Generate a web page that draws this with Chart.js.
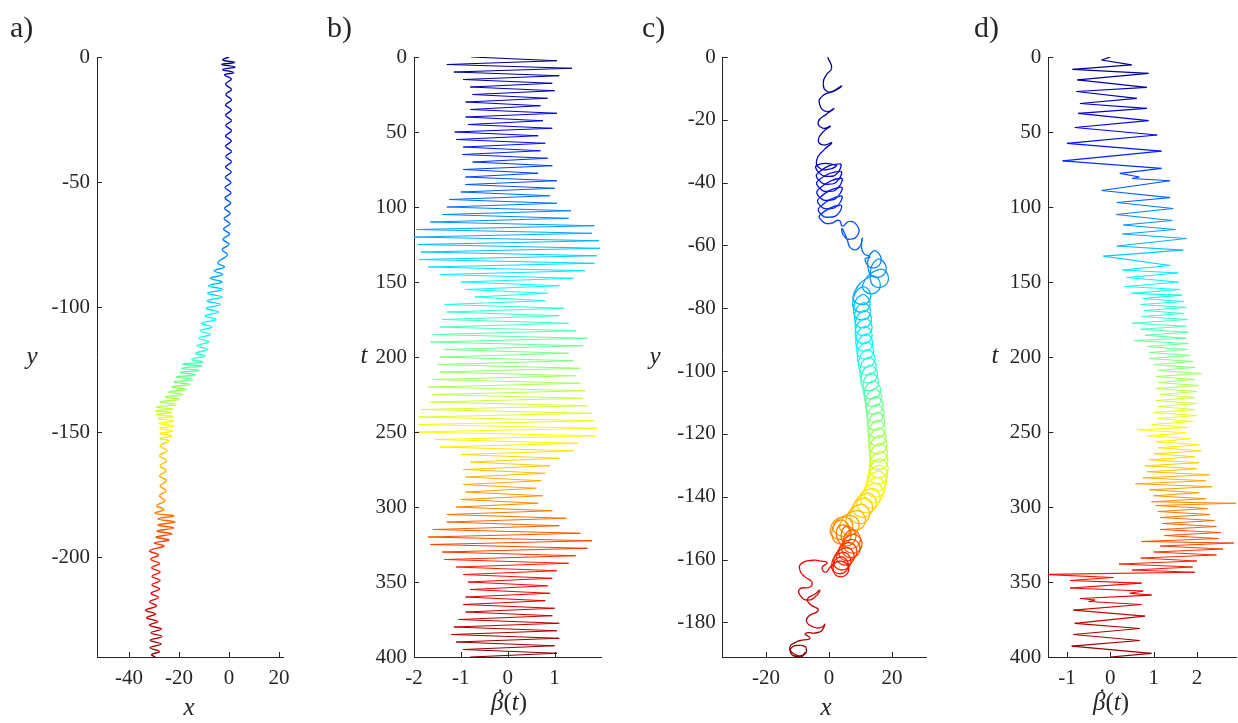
<!DOCTYPE html>
<html>
<head>
<meta charset="utf-8">
<script src="https://cdn.jsdelivr.net/npm/chart.js@4.4.1/dist/chart.umd.min.js"></script>
<style>
body { margin: 0; background: #fff; width: 1238px; height: 723px; position: relative; overflow: hidden;
  font-family: "Liberation Serif", serif; color: #262626; }
canvas { position: absolute; top: 0; }
.pan { position: absolute; font-size: 30px; line-height: 1; }
.lab { position: absolute; transform: translate(-50%, -50%); font-style: italic; font-size: 25px; white-space: nowrap; }
.lab span { font-style: normal; }
.lab .b { position: relative; font-style: italic; }
.lab .b i { position: absolute; left: 5px; top: -4px; font-style: normal; }
</style>
</head>
<body>
<canvas id="ca" style="left:0px;width:300px;height:723px" width="300" height="723"></canvas>
<canvas id="cb" style="left:300px;width:310px;height:723px" width="310" height="723"></canvas>
<canvas id="cc" style="left:610px;width:330px;height:723px" width="330" height="723"></canvas>
<canvas id="cd" style="left:940px;width:298px;height:723px" width="298" height="723"></canvas>

<div class="pan" style="left:10px;top:12px">a)</div>
<div class="pan" style="left:327px;top:12px">b)</div>
<div class="pan" style="left:642px;top:12px">c)</div>
<div class="pan" style="left:974px;top:12px">d)</div>

<div class="lab" style="left:32px;top:356px">y</div>
<div class="lab" style="left:189px;top:707px">x</div>
<div class="lab" style="left:364px;top:355px">t</div>
<div class="lab" style="left:509px;top:702px"><span class="b">β<i>˙</i></span><span>(</span>t<span>)</span></div>
<div class="lab" style="left:655px;top:356px">y</div>
<div class="lab" style="left:826px;top:707px">x</div>
<div class="lab" style="left:995px;top:355px">t</div>
<div class="lab" style="left:1111px;top:702px"><span class="b">β<i>˙</i></span><span>(</span>t<span>)</span></div>

<script>
// a) swimmer path, [x, y], equal time steps
const pathA = [
  [0,0],[-2.5,-1.2],[2.2,-2.2],[-3,-3],[2.4,-4],[-2.6,-5],[1.8,-6.2],[-1.8,-7.2],
  [0.9,-8.8],[-1.4,-10.9],[1,-13],[-1.3,-15],[1,-17.1],[-1.4,-19.2],[0.9,-21.2],[-1.4,-23.3],
  [1,-25.4],[-1.3,-27.4],[1,-29.5],[-1.4,-31.6],[0.9,-33.6],[-1.4,-35.7],[1,-37.8],[-1.3,-39.8],
  [1,-41.9],[-1.4,-44],[0.9,-46],[-1.5,-48.1],[0.8,-50.2],[-1.6,-52.2],[0.8,-54.3],[-1.6,-56.4],
  [0.7,-58.4],[-1.8,-60.5],[0.5,-62.6],[-2,-64.6],[0.4,-66.7],[-2.2,-68.8],[0.2,-70.8],[-2.4,-72.9],
  [0,-75],[-2.8,-77],[-0.6,-79.1],[-3.4,-81.2],
  [-4.5,-82.5],[-1.8,-84],[-6,-85.5],[-2.5,-87],[-7.5,-88.5],[-2.8,-90],[-8.2,-91.5],[-2.6,-93],
  [-8.6,-94.5],[-2.8,-96],[-8.8,-97.5],[-3.4,-99],[-9.2,-100.5],[-4.2,-102],[-9.6,-103.5],[-5.2,-105],
  [-11,-106.5],[-6.8,-108],[-11.6,-109.5],[-7.4,-111],[-12.2,-112.5],[-8,-114],[-12.8,-115.5],[-8.6,-117],
  [-13.4,-118.5],[-9.6,-119.5],[-15,-121],[-10.4,-122],
  [-18.5,-122.8],[-11,-123.6],[-19,-124.5],[-12,-125.4],[-19.5,-126.2],[-13.5,-127.2],[-21,-128],[-14.5,-129],
  [-22,-130],[-15.5,-131],[-23,-132],[-17,-133],[-24,-134],[-18.5,-135],[-25.5,-136],[-20,-137],
  [-27.5,-138],[-21.5,-139],[-29,-140],[-22.5,-140.8],[-29.5,-141.5],[-23,-142.2],[-29.2,-143],[-22.4,-143.8],
  [-28.5,-144.6],[-22.2,-145.6],[-28,-146.6],[-22,-147.6],[-27.8,-148.6],[-22.4,-149.6],[-27.6,-150.6],[-22.8,-151.6],
  [-27.5,-152.6],[-24,-153.6],
  [-27.6,-155.5],[-24.8,-157.5],[-27.8,-159.5],[-25,-161.5],[-27.6,-163.5],[-25.2,-165.5],[-27.8,-167.5],[-25,-169.5],
  [-27.6,-171.5],[-25.2,-173.5],[-27.8,-175.5],[-25.6,-177.5],[-29,-179.5],[-26,-181],
  [-29.6,-182.5],[-22,-183.5],[-28.5,-184.8],[-21.6,-186],[-28.5,-187.2],[-22,-188.4],[-28.8,-189.6],[-22.8,-190.8],
  [-29.2,-192],[-24,-193.2],[-29.8,-194.4],[-26,-195.6],
  [-31.8,-197.5],[-28.2,-199.2],[-31.4,-200.9],[-27.8,-202.6],[-31,-204.3],[-27.6,-206],[-30.8,-207.7],[-27.6,-209.4],
  [-30.8,-211.1],[-27.8,-212.8],[-31.2,-214.5],[-28.2,-216.2],[-31.8,-217.9],[-29,-219.6],
  [-33.4,-221.3],[-29.4,-222.8],[-33,-224.3],[-28.5,-225.8],[-31.8,-227.3],[-27,-228.8],[-31.2,-230.3],[-26.8,-231.8],
  [-31.5,-233.3],[-27.2,-234.8],[-31.6,-236.3],[-27.8,-237.8],[-31,-239],[-29.5,-240]
];

// b) beta-dot turning points, [t, value]
const betaB = [
  [0,-0.78],[2.5,1.05],[5,-1.3],[7.5,1.37],[10,-1.15],[12.5,1.1],[15,-0.95],[17.5,0.95],
  [20,-0.8],[22.5,1.0],[25,-0.75],[27.5,0.85],[30,-0.9],[32.5,0.7],[35,-0.8],[37.5,1.05],
  [40,-0.9],[42.5,0.75],[45,-0.85],[47.5,0.95],[50,-1.13],[52.5,0.65],[55,-1.1],[57.5,0.8],
  [60,-0.95],[62.5,0.7],[65,-0.97],[67.5,0.85],[70,-0.75],[72.5,0.95],[75,-0.95],[77.5,0.65],
  [80,-0.9],[82.5,1.05],[85,-0.9],[87.5,1.0],[90,-1.0],[92.5,0.9],[95,-1.25],[97.5,1.05],
  [100,-1.3],[102.5,1.35],[105,-1.4],[107.5,1.3],[110,-1.65],[112.5,1.85],[115,-1.95],[117.5,1.8],
  [120,-2.0],[122.5,1.95],[125,-1.92],[127.5,1.97],[130,-1.85],[132.5,1.9],[135,-1.9],[137.5,1.85],
  [140,-1.7],[142.5,1.65],[145,-1.45],[147.5,1.4],[150,-1.0],[152.5,1.1],[155,-0.9],[157.5,0.85],
  [160,-0.7],[162.5,0.8],[165,-1.35],[167.5,1.2],[170,-1.3],[172.5,1.1],[175,-1.4],[177.5,1.3],
  [180,-1.45],[182.5,1.45],[185,-1.6],[187.5,1.7],[190,-1.65],[192.5,1.6],[195,-1.35],[197.5,1.3],
  [200,-1.45],[202.5,1.4],[205,-1.5],[207.5,1.55],[210,-1.45],[212.5,1.45],[215,-1.6],[217.5,1.55],
  [220,-1.7],[222.5,1.65],[225,-1.6],[227.5,1.6],[230,-1.65],[232.5,1.7],[235,-1.85],[237.5,1.8],
  [240,-1.9],[242.5,1.85],[245,-1.9],[247.5,1.9],[250,-1.95],[252.5,1.88],[255,-1.55],[257.5,1.5],
  [260,-1.45],[262.5,1.4],[265,-1.0],[267.5,1.1],[270,-0.8],[272.5,0.9],[275,-0.95],[277.5,0.8],
  [280,-0.9],[282.5,0.72],[285,-0.95],[287.5,0.6],[290,-0.9],[292.5,0.75],[295,-1.0],[297.5,0.65],
  [300,-1.1],[302.5,0.95],[305,-1.3],[307.5,1.25],[310,-1.3],[312.5,1.1],[315,-1.6],[317.5,1.55],
  [320,-1.7],[322.5,1.8],[325,-1.65],[327.5,1.7],[330,-1.4],[332.5,1.45],[335,-1.35],[337.5,1.3],
  [340,-1.1],[342.5,1.05],[345,-0.95],[347.5,0.95],[350,-0.85],[352.5,0.85],[355,-0.8],[357.5,0.9],
  [360,-0.9],[362.5,0.8],[365,-0.95],[367.5,1.0],[370,-0.9],[372.5,0.95],[375,-1.05],[377.5,1.1],
  [380,-1.15],[382.5,1.05],[385,-1.2],[387.5,1.1],[390,-1.1],[392.5,1.0],[395,-0.95],[397.5,1.05],
  [400,-0.8]
];

// c) swimmer path, [x, y], equal time steps
const pathC = [
  [-0.4,-0.1],[0.85,-3.6],[-0.7,-5.5],[-1.8,-8.4],[-0.5,-11],[2.4,-10.5],[4,-9.2],
  [1.5,-10.8],[-2.3,-12.6],[-2.9,-15.3],[-0.7,-17.4],[1.6,-16.4],
  [-0.5,-18],[-3.4,-20.6],[-1.8,-22.7],[0.5,-22],
  [-1.5,-23.5],[-3.4,-26.4],[-1.8,-28],[0.9,-27.3],
  [-1.5,-29.5],[-3.9,-32.8],[-2.9,-35.4],[0.5,-35.6],[2.2,-34.4],
  [-3.8,-34.4],[-3.2,-36.8],[0,-38],[2.8,-36.8],[3.4,-34],
  [-3.6,-37],[-3,-39.4],[0,-40.5],[2.9,-39.2],[3.6,-36.4],
  [-3.5,-39.4],[-3,-41.7],[0,-42.8],[3,-41.5],[3.8,-38.6],
  [-3.4,-42.2],[-3,-44.6],[0,-45.6],[3,-44.2],[3.8,-41.4],
  [-3.2,-45],[-2.8,-47.3],[0,-48.3],[3,-47],[3.8,-44.2],
  [-3,-47.8],[-2.6,-50],[0,-51],[3,-49.8],[3.6,-47.2],
  [-2.8,-50.2],[-2.2,-52.2],[0.5,-53],[3.2,-52],
  [4.3,-53.8],[6.5,-52.3],[9,-53.8],[9.2,-56.5],[6.8,-58],[4.6,-56.8],[4.2,-54.6],
  [5.8,-58.2],[6.7,-60.6],[8.5,-61.4],[10,-60],[10.6,-57.6],[10.3,-60],[11,-62.5],[13,-63.6],
  [11.4,-64.5],[14,-67.2],[16.6,-64.5],[14,-61.8],
  [12.4,-67.3],[15.3,-70.2],[18.2,-67.3],[15.3,-64.4],
  [13.1,-70.5],[16,-73.4],[18.9,-70.5],[16,-67.6],
  [10.7,-72.6],[13.5,-75.4],[16.3,-72.6],[13.5,-69.8],
  [7.7,-76],[10.5,-78.8],[13.3,-76],[10.5,-73.2],
  [7.5,-78.5],[10.3,-81.3],[13.1,-78.5],[10.3,-75.7],
  [7.8,-81],[10.5,-83.7],[13.2,-81],[10.5,-78.3],
  [8.1,-83.5],[10.8,-86.2],[13.5,-83.5],[10.8,-80.8],
  [8.3,-86],[11,-88.7],[13.7,-86],[11,-83.3],
  [8.3,-88.5],[11,-91.2],[13.7,-88.5],[11,-85.8],
  [8.5,-91],[11.2,-93.7],[13.9,-91],[11.2,-88.3],
  [8.8,-93.5],[11.5,-96.2],[14.2,-93.5],[11.5,-90.8],
  [9,-96],[11.8,-98.8],[14.6,-96],[11.8,-93.2],
  [9.4,-98.5],[12.2,-101.3],[15,-98.5],[12.2,-95.7],
  [9.8,-101],[12.6,-103.8],[15.4,-101],[12.6,-98.2],
  [10.2,-103.5],[13,-106.3],[15.8,-103.5],[13,-100.7],
  [10.8,-106],[13.6,-108.8],[16.4,-106],[13.6,-103.2],
  [11.2,-108.5],[14,-111.3],[16.8,-108.5],[14,-105.7],
  [11.6,-111],[14.4,-113.8],[17.2,-111],[14.4,-108.2],
  [11.9,-113.5],[14.7,-116.3],[17.5,-113.5],[14.7,-110.7],
  [12.1,-116],[14.9,-118.8],[17.7,-116],[14.9,-113.2],
  [12.3,-118.5],[15.1,-121.3],[17.9,-118.5],[15.1,-115.7],
  [12.5,-121],[15.3,-123.8],[18.1,-121],[15.3,-118.2],
  [12.6,-123.5],[15.5,-126.4],[18.4,-123.5],[15.5,-120.6],
  [12.8,-126],[15.7,-128.9],[18.6,-126],[15.7,-123.1],
  [12.9,-128.5],[15.8,-131.4],[18.7,-128.5],[15.8,-125.6],
  [12.8,-131],[15.8,-134],[18.8,-131],[15.8,-128],
  [12.6,-133],[15.6,-136],[18.6,-133],[15.6,-130],
  [12.1,-135],[15.2,-138.1],[18.3,-135],[15.2,-131.9],
  [11.7,-137],[14.8,-140.1],[17.9,-137],[14.8,-133.9],
  [11.1,-138.8],[14.2,-141.9],[17.3,-138.8],[14.2,-135.7],
  [10.1,-140.5],[13.2,-143.6],[16.3,-140.5],[13.2,-137.4],
  [8.9,-142],[12,-145.1],[15.1,-142],[12,-138.9],
  [7.7,-143.5],[10.8,-146.6],[13.9,-143.5],[10.8,-140.4],
  [6.7,-145.5],[9.8,-148.6],[12.9,-145.5],[9.8,-142.4],
  [5.4,-147.5],[8.5,-150.6],[11.6,-147.5],[8.5,-144.4],
  [3.4,-149],[6.5,-152.1],[9.6,-149],[6.5,-145.9],
  [1.4,-149.5],[4.5,-152.6],[7.6,-149.5],[4.5,-146.4],
  [0.4,-150.5],[3.5,-153.6],[6.6,-150.5],[3.5,-147.4],
  [0.9,-152],[4,-155.1],[7.1,-152],[4,-148.9],
  [2.4,-152.5],[5.5,-155.6],[8.6,-152.5],[5.5,-149.4],
  [4,-153.5],[7,-156.5],[10,-153.5],[7,-150.5],
  [4.5,-155],[7.5,-158],[10.5,-155],[7.5,-152],
  [4.1,-156.5],[7,-159.4],[9.9,-156.5],[7,-153.6],
  [3.1,-157.5],[6,-160.4],[8.9,-157.5],[6,-154.6],
  [2.4,-159],[5.2,-161.8],[8,-159],[5.2,-156.2],
  [1.4,-160.5],[4.2,-163.3],[7,-160.5],[4.2,-157.7],
  [0.8,-161.8],[3.5,-164.5],[6.2,-161.8],[3.5,-159.1],
  [1.3,-163],[3.8,-165.5],[6.3,-163],[3.8,-160.5],
  [0.8,-162],[-1,-164],[-2.2,-162.5],[-0.5,-161],
  [-3,-160.4],[-5,-160.2],[-8.7,-161.2],[-9.2,-163.4],[-7.6,-165.5],[-5.5,-167],[-6,-168.7],[-9.2,-169.3],
  [-9.2,-171.3],[-6.6,-172.9],[-4,-171.5],[-2.9,-169.7],[-4.5,-171],[-6.8,-172.5],[-6,-174.2],[-3.4,-176.1],
  [-6.6,-178.2],[-7,-180],[-5,-181.4],[-2.4,-181.6],[-1.3,-180.6],[-2.9,-183],[-7.5,-183.5],[-6,-185.1],
  [-8.5,-185.6],[-10.3,-186.2],[-12.4,-187.8],[-11.3,-189.9],[-8.2,-190.4],[-7.2,-188.3],[-9,-187.3],
  [-12,-188.2],[-11.5,-190.5],[-9,-191],[-7.5,-189.5]
];

// d) beta-dot turning points, [t, value]
const betaD = [
  [0,0],[2,-0.2],[5.3,0.49],[8.2,-0.87],[10.9,0.88],[15.3,-0.76],[20.2,0.84],[23,-0.78],
  [27.6,0.61],[31,-0.7],[34.2,0.84],[37.6,-0.74],[42.4,0.88],[47,-0.82],[52,1.08],[57.6,-1.0],
  [62.7,1.18],[69.3,-1.1],[74.2,1.18],[77.6,0.22],[80,0.67],[81,0.5],[82.5,1.38],[89,-0.2],
  [93.8,1.38],[97,0.15],[101,1.45],[105,0.13],[109,1.43],[112,0.3],[115,1.5],[118,0.28],
  [121,1.76],[126,0.15],[128.7,1.68],[132.7,-0.16],[139,1.38],[142,0.28],[144,1.57],[147,0.38],
  [150,1.57],[153,0.34],[155,1.6],[157.6,0.49],[158.7,1.65],
  [161,0.75],[163,1.7],[165,0.7],[167,1.75],[169,0.78],[171,1.7],[173,0.72],[175,1.78],
  [177.5,0.5],[179.5,1.75],[181.5,0.7],[183.5,1.8],[185.5,0.8],[187.5,1.75],[189,0.55],[191,1.8],
  [193,0.85],[195,1.78],[197,0.9],[199,1.85],
  [201,0.9],[203,1.9],[205,1.0],[207,1.95],[209,1.1],[211,2.1],[213,1.05],[215,1.95],
  [217,1.1],[219,2.05],[221,1.05],[223,2.0],[225,1.15],[227,1.95],[229,1.05],[231,2.0],
  [233,1.1],[235,1.95],[237,1.0],[239,2.0],[241,1.1],[243,1.9],[245,0.95],[247,1.8],
  [248.5,0.62],[250.5,1.75],[252.5,0.85],[254.5,1.85],[256.5,1.05],[258.5,2.05],[260.5,1.1],[262.5,2.1],
  [264.5,1.0],[266.5,1.95],[268.5,0.9],[270.5,2.05],[272.5,0.8],[274.5,2.0],[276.5,0.85],[278.5,2.3],
  [280.5,0.75],[282.5,2.2],[284.5,0.58],[286.5,2.35],[288.5,0.9],[290.5,2.05],[292.5,1.0],[294.5,2.2],
  [296.5,0.95],[297.5,2.9],[299,1.05],[301,2.25],[303,1.1],[305,2.3],[307,1.15],[309,2.4],
  [311,1.2],[313,2.45],[315,1.15],[317,2.55],[319,1.25],[321,2.5],[323,0.72],[324,2.85],
  [326,1.15],[328,2.6],[330,1.0],[332,2.45],[334,0.7],[336,2.0],[338,0.2],[340,1.9],
  [342,0.5],[343.5,1.95],[345,-1.5],[347,0.07],[349,-0.93],[350.7,0.72],[354,-0.93],[356,0.76],
  [357.5,0.45],[358.7,0.95],[361,-0.7],[362,-0.35],[363,-0.5],[365,0.72],[368.7,-0.85],[372.7,0.8],
  [377.6,-0.82],[381,0.68],[385,-0.85],[389,0.68],[392.7,-0.89],[397.6,0.95],[400,0]
];

const ticksAx = [-40, -20, 0, 20];
const ticksAy = [0, -50, -100, -150, -200];
const ticksBx = [-2, -1, 0, 1];
const ticksT = [0, 50, 100, 150, 200, 250, 300, 350, 400];
const ticksCx = [-20, 0, 20];
const ticksCy = [0, -20, -40, -60, -80, -100, -120, -140, -160, -180];
const ticksDx = [-1, 0, 1, 2];

const axisColor = '#262626';

function jet(v) {
  v = Math.min(1, Math.max(0, v));
  const f = a => Math.round(255 * Math.min(1, Math.max(0, 1.5 - Math.abs(4 * v - a))));
  return 'rgb(' + f(3) + ',' + f(2) + ',' + f(1) + ')';
}

// matlab style ticks pointing into the axes
const inwardTicks = {
  id: 'inwardTicks',
  afterDraw(chart) {
    const c = chart.ctx, xs = chart.scales.x, ys = chart.scales.y, a = chart.chartArea;
    c.save();
    c.strokeStyle = axisColor;
    c.lineWidth = 1;
    c.beginPath();
    xs.ticks.forEach(t => {
      const p = Math.round(xs.getPixelForValue(t.value)) + 0.5;
      c.moveTo(p, a.bottom); c.lineTo(p, a.bottom - 5);
    });
    ys.ticks.forEach(t => {
      const p = Math.round(ys.getPixelForValue(t.value)) + 0.5;
      c.moveTo(a.left, p); c.lineTo(a.left + 5, p);
    });
    c.stroke();
    c.restore();
  }
};

function axis(min, max, ticks, fit, reverse, pad) {
  return {
    type: 'linear', min: min, max: max, reverse: !!reverse,
    grid: { drawOnChartArea: false, drawTicks: false },
    border: { display: true, color: axisColor, width: 1 },
    ticks: { color: axisColor, padding: pad, font: { family: 'Liberation Serif', size: 21 },
      callback: v => String(v) },
    afterBuildTicks: s => { s.ticks = ticks.map(v => ({ value: v })); },
    afterFit: fit
  };
}

function panel(id, data, o) {
  const n = data.length;
  new Chart(document.getElementById(id), {
    type: 'scatter',
    data: { datasets: [{
      data: data,
      showLine: true,
      pointRadius: 0,
      borderWidth: o.lw,
      tension: o.tension,
      borderColor: '#000',
      segment: { borderColor: c => jet(o.byT ? c.p0.parsed.y / 400 : c.p0DataIndex / (n - 1)) }
    }] },
    options: {
      responsive: false,
      animation: false,
      events: [],
      layout: { padding: { top: 57, right: o.padR, left: 0, bottom: 0 } },
      plugins: { legend: { display: false }, tooltip: { enabled: false } },
      scales: {
        x: axis(o.x[0], o.x[1], o.xt, s => { s.height = 66; }, false, 9),
        y: axis(o.y[0], o.y[1], o.yt, s => { s.width = o.yW; }, o.rev, 7)
      }
    },
    plugins: [inwardTicks]
  });
}

panel('ca', pathA.map(p => ({ x: p[0], y: p[1] })),
  { lw: 1.4, tension: 0.4, x: [-52.8, 21.7], y: [-240, 0], xt: ticksAx, yt: ticksAy, yW: 97, padR: 16.7 });
panel('cb', betaB.map(p => ({ x: p[1], y: p[0] })),
  { lw: 1.1, tension: 0, byT: true, rev: true, x: [-2, 1.99], y: [0, 400], xt: ticksBx, yt: ticksT, yW: 114, padR: 9 });
panel('cc', pathC.map(p => ({ x: p[0], y: p[1] })),
  { lw: 1.3, tension: 0.55, x: [-33.7, 31], y: [-191, 0], xt: ticksCx, yt: ticksCy, yW: 112.7, padR: 13.3 });
panel('cd', betaD.map(p => ({ x: p[1], y: p[0] })),
  { lw: 1.2, tension: 0, byT: true, rev: true, x: [-1.43, 2.9], y: [0, 400], xt: ticksDx, yt: ticksT, yW: 108.3, padR: 2 });
</script>
</body>
</html>
